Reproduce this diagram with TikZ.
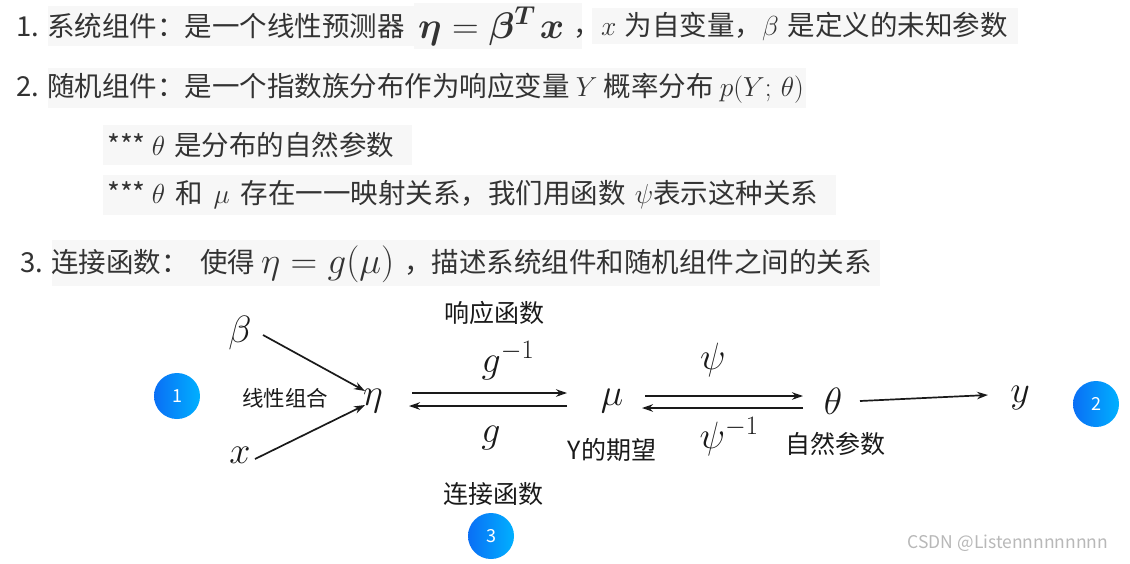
\RequirePackage{fix-cm}
\documentclass[tikz,border=0pt]{standalone}
\usepackage{amsmath,bm}
\usepackage{fontspec}
\setmainfont{Noto Sans CJK SC}
\usetikzlibrary{arrows.meta}
\definecolor{txt}{HTML}{333333}
\definecolor{dtxt}{HTML}{1A1A1A}
\definecolor{hl}{HTML}{F7F7F7}
\definecolor{bluea}{HTML}{0A6FF5}
\definecolor{blueb}{HTML}{00B0FF}
\tikzset{
  line/.style={anchor=west,text=txt,inner sep=0pt,font=\fontsize{27.5}{32}\selectfont},
  sym/.style={inner sep=0pt,text=dtxt,font=\fontsize{38}{42}\selectfont},
  lab/.style={inner sep=0pt,text=dtxt,font=\fontsize{25}{29}\selectfont},
  arr/.style={-{Stealth[length=11pt,width=7.5pt]},line width=1.7pt,draw=dtxt},
  badge/.style={circle,minimum size=46pt,inner sep=0pt,shading=axis,left color=bluea,right color=blueb,shading angle=90,text=white,font=\fontsize{18}{20}\selectfont}
}
\begin{document}
\begin{tikzpicture}[x=1pt,y=-1pt]
\useasboundingbox[fill=white] (0,0) rectangle (1130,563);
% faint highlights
\fill[hl] (48,6) rectangle (414,46);
\fill[hl] (414,3) rectangle (582,49);
\fill[hl] (592,8) rectangle (1018,44);
\fill[hl] (48,68) rectangle (806,108);
\fill[hl] (103,125) rectangle (412,165);
\fill[hl] (103,175) rectangle (836,215);
\fill[hl] (52,240) rectangle (880,286);
% text lines
\node[line] (l1a) at (16,26) {1. 系统组件：是一个线性预测器};
\node[line,font=\fontsize{37}{40}\selectfont] (m1) at (418,26) {$\bm{\eta}=\bm{\beta}^{\bm{T}}\mkern2mu\bm{x}$};
\node[line] (l1c) at (573,26) {\vphantom{是}，};
\node[line] (l1b) at (601,26) {$x$\hspace{8pt}为自变量，$\beta$\hspace{9pt}是定义的未知参数};
\node[line] (l2) at (16,88) {2. 随机组件：是一个指数族分布作为响应变量 $Y$ 概率分布 $p(Y;\,\theta)$};
\node[line] (l3) at (107,145) {*** $\theta$\hspace{9pt}是分布的自然参数};
\node[line] (l4) at (107,195) {*** $\theta$\hspace{10pt}和\hspace{11pt}$\mu$\hspace{11pt}存在一一映射关系，我们用函数\hspace{9pt}$\psi$表示这种关系};
\node[line] (l5a) at (20,262) {3. 连接函数：};
\node[line] (l5b) at (200,262) {使得};
\node[line,font=\fontsize{37}{40}\selectfont] (m5) at (261,264) {$\eta=g(\mu)$};
\node[line] (l5c) at (404,262) {，描述系统组件和随机组件之间的关系};
% diagram symbols
\node[sym] (beta) at (240,333) {$\beta$};
\node[sym] (x) at (240,455) {$x$};
\node[sym] (eta) at (373,401) {$\eta$};
\node[sym] (mu) at (612,401) {$\mu$};
\node[sym] (theta) at (833,401) {$\theta$};
\node[sym] (y) at (1020,398) {$y$};
% labels
\node[lab,font=\fontsize{21.5}{25}\selectfont] (lin) at (285,398) {线性组合};
\node[lab] (resp) at (494,313) {响应函数};
\node[sym] (ginv) at (508,361) {$g^{-1}$};
\node[sym] (g) at (491,438) {$g$};
\node[lab] (link) at (493,494) {连接函数};
\node[lab] (ey) at (612,450) {Y的期望};
\node[sym] (psi) at (713,360) {$\psi$};
\node[sym] (psiinv) at (729,437) {$\psi^{-1}$};
\node[lab] (nat) at (835,444) {自然参数};
% badges
\node[badge] (c1) at (177,396) {1};
\node[badge] (c2) at (1096,404) {2};
\node[badge] (c3) at (491,536) {3};
% arrows
\draw[arr] ([xshift=23pt,yshift=-2pt]beta.center) -- ([xshift=-8pt,yshift=10pt]eta.center);
\draw[arr] ([xshift=15pt,yshift=-4pt]x.center) -- ([xshift=-8pt,yshift=-4pt]eta.center);
\draw[arr] ([xshift=39pt,yshift=8pt]eta.center) -- ([xshift=-45pt,yshift=8pt]mu.center);
\draw[arr] ([xshift=-45pt,yshift=-5pt]mu.center) -- ([xshift=36pt,yshift=-5pt]eta.center);
\draw[arr] ([xshift=33pt,yshift=5pt]mu.center) -- ([xshift=-30pt,yshift=5pt]theta.center);
\draw[arr] ([xshift=-30pt,yshift=-7pt]theta.center) -- ([xshift=30pt,yshift=-7pt]mu.center);
\draw[arr] ([xshift=27pt]theta.center) -- ([xshift=-32pt,yshift=3pt]y.center);
% watermark
\node[inner sep=0pt,text=black!28,font=\fontsize{17.5}{20}\selectfont] (wm) at (1008,543) {CSDN @Listennnnnnnnn};
\end{tikzpicture}
\end{document}
